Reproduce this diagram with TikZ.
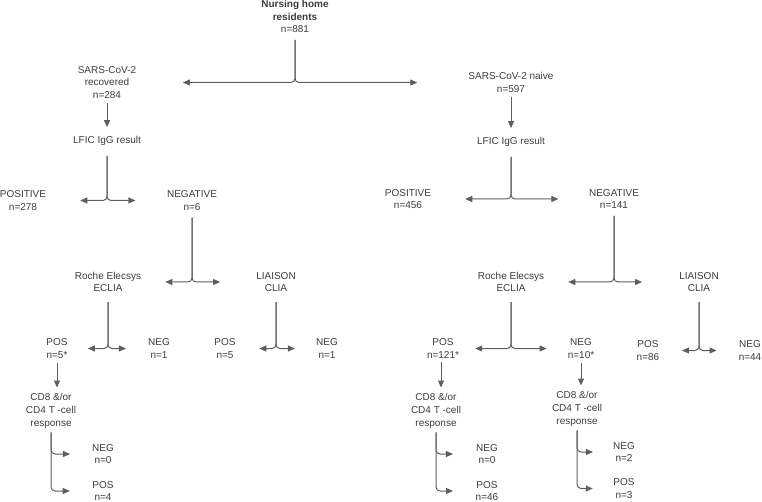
\documentclass[tikz,border=0pt]{standalone}
\usepackage{fontspec}
\setmainfont{Liberation Sans}
\usetikzlibrary{arrows.meta}
\definecolor{txtgray}{HTML}{3C3C3C}
\definecolor{linegray}{HTML}{5E5E5E}
\tikzset{
  lbl/.style={align=center, inner xsep=0pt, inner ysep=4pt, text=txtgray, font=\fontsize{10}{12.6}\selectfont},
  conn/.style={draw=linegray, line width=1pt, rounded corners=4pt, -{Triangle[length=7pt,width=6pt]}},
}
\begin{document}
\begin{tikzpicture}[x=1pt,y=-1pt]
  \useasboundingbox (0,0) rectangle (762,502);
  % top of the tree
  \node[lbl] (root) at (295,16.5) {\textbf{Nursing home}\\\textbf{residents}\\n=881};
  \node[lbl] (recA) at (107,82.5) {SARS-CoV-2\\recovered\\n=284}; % left branch
  \node[lbl] (naiveB) at (511,82.5) {SARS-CoV-2 naive\\n=597}; % right branch
  \draw[conn][shorten <=3pt, shorten >=46.5pt] (root.south) |- (recA.east);
  \draw[conn][shorten <=3pt, shorten >=51pt] (root.south) |- (naiveB.west);

  % recovered residents
  \node[lbl] (lficA) at (107,141) {LFIC IgG result};
  \node[lbl] (posA) at (23,200.5) {POSITIVE\\n=278};
  \node[lbl] (negA) at (192,200.5) {NEGATIVE\\n=6};
  \node[lbl] (rocheA) at (108,282) {Roche Elecsys\\ECLIA};
  \node[lbl] (liaA) at (276,282) {LIAISON\\CLIA};
  \node[lbl] (posA2) at (57,348.5) {POS\\n=5*};
  \node[lbl] (negA2) at (159,348.5) {NEG\\n=1};
  \node[lbl] (posA3) at (225,348.5) {POS\\n=5};
  \node[lbl] (negA3) at (327,348.5) {NEG\\n=1};
  \node[lbl] (cd8A) at (51,411) {CD8 \&/or\\CD4 T -cell\\response};
  \node[lbl] (negC) at (103,454) {NEG\\n=0};
  \node[lbl] (posC) at (103,491) {POS\\n=4};
  \draw[conn][shorten >=5pt] (recA.south) -- (lficA.north);
  \draw[conn][shorten <=6pt, shorten >=34pt] (lficA.south) |- (posA.east);
  \draw[conn][shorten <=6pt, shorten >=31.5pt] (lficA.south) |- (negA.west);
  \draw[conn][shorten <=3pt, shorten >=24pt] (negA.south) |- (rocheA.east);
  \draw[conn][shorten <=3pt, shorten >=36pt] (negA.south) |- (liaA.west);
  \draw[conn][shorten <=6pt, shorten >=20pt] (rocheA.south) |- (posA2.east);
  \draw[conn][shorten <=6pt, shorten >=22pt] (rocheA.south) |- (negA2.west);
  \draw[conn][shorten <=6pt, shorten >=23.5pt] (liaA.south) |- (posA3.east);
  \draw[conn][shorten <=6pt, shorten >=21pt] (liaA.south) |- (negA3.west);
  \draw[conn][shorten >=2pt] (posA2.south) -- (posA2.south |- cd8A.north); % to T-cell test
  \draw[conn][shorten >=22pt] (cd8A.south) |- (negC.west);
  \draw[conn][shorten >=22.5pt] (cd8A.south) |- (posC.west);

  % naive residents
  \node[lbl] (lficB) at (511,142) {LFIC IgG result};
  \node[lbl] (posB) at (408,199) {POSITIVE\\n=456};
  \node[lbl] (negB) at (614,199) {NEGATIVE\\n=141};
  \node[lbl] (rocheB) at (511,282) {Roche Elecsys\\ECLIA};
  \node[lbl] (liaB) at (699,282) {LIAISON\\CLIA};
  \node[lbl] (posB2) at (443,348.5) {POS\\n=121*};
  \node[lbl] (negB2) at (581,348.5) {NEG\\n=10*};
  \node[lbl] (posB3) at (648,350.5) {POS\\n=86};
  \node[lbl] (negB3) at (750,350.5) {NEG\\n=44};
  \node[lbl] (cd8B) at (436,411) {CD8 \&/or\\CD4 T -cell\\response};
  \node[lbl] (negD) at (487,454) {NEG\\n=0};
  \node[lbl] (posD) at (487,491) {POS\\n=46};
  \node[lbl] (cd8C) at (577,409) {CD8 \&/or\\CD4 T -cell\\response};
  \node[lbl] (negE) at (624,452) {NEG\\n=2};
  \node[lbl] (posE) at (624,488.5) {POS\\n=3};
  \draw[conn][shorten >=5pt] (naiveB.south) -- (lficB.north);
  \draw[conn][shorten <=6pt, shorten >=34pt] (lficB.south) |- (posB.east);
  \draw[conn][shorten <=6pt, shorten >=30.5pt] (lficB.south) |- (negB.west);
  \draw[conn][shorten <=3pt, shorten >=24pt] (negB.south) |- (rocheB.east);
  \draw[conn][shorten <=3pt, shorten >=37pt] (negB.south) |- (liaB.west);
  \draw[conn][shorten <=6pt, shorten >=16pt] (rocheB.south) |- (posB2.east);
  \draw[conn][shorten <=6pt, shorten >=21pt] (rocheB.south) |- (negB2.west);
  \draw[conn][shorten <=6pt, shorten >=22.5pt] (liaB.south) |- (posB3.east);
  \draw[conn][shorten <=6pt, shorten >=22pt] (liaB.south) |- (negB3.west);
  \draw[conn][shorten >=2pt] ([xshift=-2pt]posB2.south) -- ([xshift=-2pt]posB2.south |- cd8B.north); % to T-cell test
  \draw[conn][shorten >=2pt] (negB2.south) -- (negB2.south |- cd8C.north); % to T-cell test
  \draw[conn][shorten >=23pt] (cd8B.south) |- (negD.west);
  \draw[conn][shorten >=22.5pt] (cd8B.south) |- (posD.west);
  \draw[conn][shorten >=20pt] (cd8C.south) |- (negE.west);
  \draw[conn][shorten >=20.5pt] (cd8C.south) |- (posE.west);
\end{tikzpicture}
\end{document}
